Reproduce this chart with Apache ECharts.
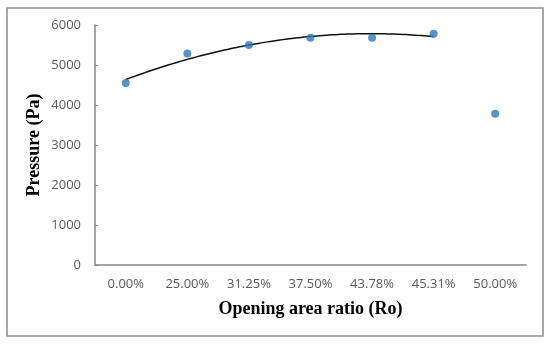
<!DOCTYPE html>
<html><head><meta charset="utf-8">
<script src="https://cdn.jsdelivr.net/npm/echarts@6/dist/echarts.min.js"></script>
<style>html,body{margin:0;padding:0;background:#fff}#c{width:550px;height:345px}</style>
</head><body><div id="c"></div>
<script>
var categories = ['0.00%','25.00%','31.25%','37.50%','43.78%','45.31%','50.00%'];
var pressure = [4550, 5290, 5500, 5680, 5680, 5780, 3780];
var trendCount = 6; // Excel-style 2nd order polynomial trendline over the first 6 points
var yTicks = [0, 1000, 2000, 3000, 4000, 5000, 6000];

// least-squares quadratic fit on first trendCount points (x = index)
function quadFit(ys){
  var n=ys.length,S=[0,0,0,0,0],T=[0,0,0];
  for(var i=0;i<n;i++){var x=i,p=1;for(var k=0;k<5;k++){S[k]+=p;if(k<3)T[k]+=p*ys[i];p*=x;}}
  var A=[[S[0],S[1],S[2],T[0]],[S[1],S[2],S[3],T[1]],[S[2],S[3],S[4],T[2]]];
  for(var c=0;c<3;c++){for(var r=c+1;r<3;r++){var f=A[r][c]/A[c][c];for(var k=c;k<4;k++)A[r][k]-=f*A[c][k];}}
  var co=[0,0,0];
  for(var r=2;r>=0;r--){var s=A[r][3];for(var k=r+1;k<3;k++)s-=A[r][k]*co[k];co[r]=s/A[r][r];}
  return co;
}
var co = quadFit(pressure.slice(0,trendCount));
var trend = [];
for (var i=0;i<=100;i++){var x=(trendCount-1)*i/100;trend.push([x,co[0]+co[1]*x+co[2]*x*x]);}

var chart = echarts.init(document.getElementById('c'));
var labelColor = '#595959', axisColor = '#868686';
chart.setOption({
  animation:false,
  graphic:[{type:'rect',shape:{x:7,y:8,width:536,height:328},style:{fill:'none',stroke:'#8c8c8c',lineWidth:1.5}}],
  grid:{left:95,right:24,top:25,bottom:80},
  xAxis:[{
    type:'category',data:categories,
    axisLine:{lineStyle:{color:axisColor,width:1.5}},
    axisTick:{alignWithLabel:true,inside:true,length:3,lineStyle:{color:axisColor}},
    axisLabel:{color:labelColor,fontFamily:'Open Sans',fontSize:13,margin:13},
    name:'Opening area ratio (Ro)',nameLocation:'middle',nameGap:35,
    nameTextStyle:{fontFamily:'Liberation Serif',fontWeight:'bold',fontSize:18,color:'#000'}
  },{
    type:'value',min:-0.5,max:6.5,show:false
  }],
  yAxis:{
    type:'value',min:yTicks[0],max:yTicks[yTicks.length-1],interval:1000,
    splitLine:{show:false},
    axisLine:{show:true,onZero:false,lineStyle:{color:axisColor,width:1.5}},
    axisTick:{show:true,inside:true,length:3,lineStyle:{color:axisColor}},
    axisLabel:{color:labelColor,fontFamily:'Open Sans',fontSize:13,margin:14,formatter:function(v){return String(v);}},
    name:'Pressure (Pa)',nameLocation:'middle',nameGap:52,nameMoveOverlap:false,
    nameTextStyle:{fontFamily:'Liberation Serif',fontWeight:'bold',fontSize:18,color:'#000'}
  },
  series:[{
    type:'line',xAxisIndex:1,data:trend,showSymbol:false,symbol:'none',
    lineStyle:{color:'#111',width:1.5},z:2
  },{
    type:'scatter',data:pressure,symbolSize:8,itemStyle:{color:'#2E78BA'},z:3
  }]
});
</script></body></html>
